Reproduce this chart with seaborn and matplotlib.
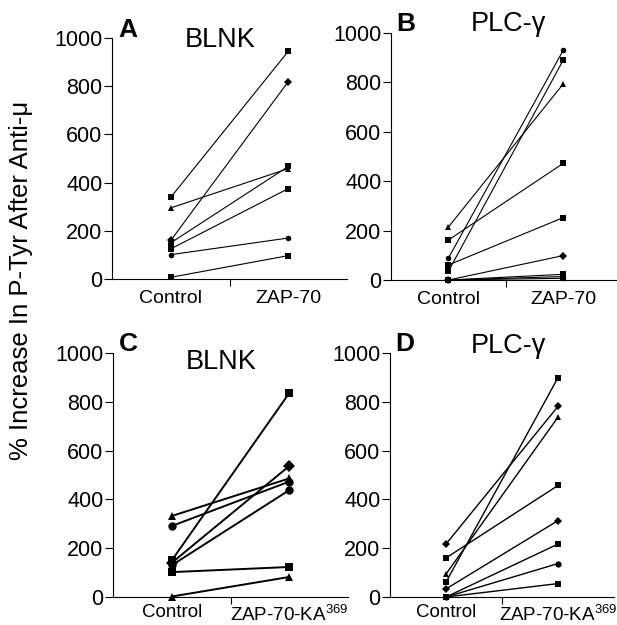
import matplotlib
matplotlib.use("Agg")
import matplotlib.pyplot as plt
import seaborn as sns
import pandas as pd

# percent increase, control vs. treated, one entry per experiment
a_control = [339, 295, 160, 150, 125, 101, 7]
a_treated = [945, 458, 819, 467, 375, 170, 97]
a_markers = ["s", "^", "D", "s", "s", "o", "s"]

b_control = [215, 162, 89, 61, 36, 0, 0, 0, 0]
b_treated = [795, 473, 932, 253, 892, 99, 23, 14, 7]
b_markers = ["^", "s", "o", "s", "s", "D", "s", "s", "o"]

c_control = [332, 291, 150, 140, 130, 102, 2]
c_treated = [486, 473, 836, 537, 438, 123, 82]
c_markers = ["^", "o", "s", "D", "o", "s", "^"]

d_control = [217, 160, 94, 61, 33, 0, 0, 0]
d_treated = [781, 457, 737, 899, 313, 217, 137, 55]
d_markers = ["D", "s", "^", "s", "D", "s", "o", "s"]

top_labels = ["Control", "ZAP-70"]
bottom_labels = ["Control", r"ZAP-70-KA$^{\mathregular{369}}$"]
y_ticks = [0, 200, 400, 600, 800, 1000]

sns.set_style("ticks")
plt.rcParams["font.family"] = ["Liberation Sans", "DejaVu Sans"]
plt.rcParams["mathtext.fontset"] = "custom"
plt.rcParams["mathtext.rm"] = "Liberation Sans"
for key in ["text.color", "axes.labelcolor", "xtick.color", "ytick.color",
            "axes.edgecolor"]:
    plt.rcParams[key] = "black"


def long_table(control, treated):
    rows = []
    for i, (c, t) in enumerate(zip(control, treated)):
        rows.append({"subject": i, "pos": 0.5, "value": c})
        rows.append({"subject": i, "pos": 1.5, "value": t})
    return pd.DataFrame(rows)


def draw_panel(ax, control, treated, markers, xlabels, letter, title,
               title_xy, lw, ms, xsize, xpad):
    df = long_table(control, treated)
    sns.lineplot(data=df, x="pos", y="value", style="subject",
                 markers=dict(enumerate(markers)), dashes=False,
                 estimator=None, sort=False, color="black", legend=False,
                 linewidth=lw, markersize=ms, markeredgewidth=0,
                 clip_on=False, ax=ax)
    ax.set_xlim(0, 2)
    ax.set_ylim(0, 1000)
    ax.set_yticks(y_ticks)
    ax.set_xticks([0.5, 1.5])
    ax.set_xticklabels(xlabels)
    ax.set_xticks([1], minor=True)
    ax.tick_params(axis="x", which="major", length=0, pad=xpad,
                   labelsize=xsize)
    ax.tick_params(axis="x", which="minor", length=5, width=0.8)
    ax.tick_params(axis="y", length=6, width=0.8, pad=1, labelsize=15.5)
    ax.set_xlabel("")
    ax.set_ylabel("")
    for side in ["left", "bottom"]:
        ax.spines[side].set_linewidth(0.8)
    sns.despine(ax=ax)
    ax.text(0.025, 1.035, letter, transform=ax.transAxes, fontsize=19,
            fontweight="bold", ha="left", va="center")
    ax.text(title_xy[0], title_xy[1], title, transform=ax.transAxes,
            fontsize=19.5, ha="center", va="center")


fig = plt.figure(figsize=(6.17, 6.25), dpi=100)
ax_a = fig.add_axes([0.1815, 0.5536, 0.381, 0.3856])
ax_b = fig.add_axes([0.6337, 0.5520, 0.3727, 0.3952])
ax_c = fig.add_axes([0.1831, 0.0448, 0.381, 0.3904])
ax_d = fig.add_axes([0.6321, 0.0448, 0.3630, 0.3904])

draw_panel(ax_a, a_control, a_treated, a_markers, top_labels, "A", "BLNK",
           (0.46, 0.99), 0.8, 4, 14, 8)
draw_panel(ax_b, b_control, b_treated, b_markers, top_labels, "B",
           "PLC-\u03b3", (0.51, 1.037), 0.8, 4, 14, 8)
draw_panel(ax_c, c_control, c_treated, c_markers, bottom_labels, "C", "BLNK",
           (0.46, 0.963), 1.4, 6, 13.5, 5)
draw_panel(ax_d, d_control, d_treated, d_markers, bottom_labels, "D",
           "PLC-\u03b3", (0.527, 1.03), 1.0, 4.5, 13.5, 5)

fig.text(0.034, 0.552, "% Increase In P-Tyr After Anti-\u03bc", rotation=90,
         fontsize=18.5, ha="center", va="center")

fig.savefig("out.png", dpi=100, facecolor="white")
